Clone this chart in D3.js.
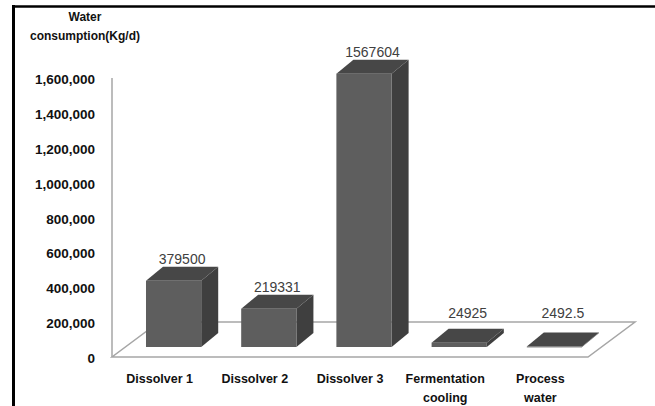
<!DOCTYPE html>
<html>
<head>
<meta charset="utf-8">
<script src="https://cdn.jsdelivr.net/npm/d3@7"></script>
<style>
  body { margin: 0; background: #fff; }
  svg text { font-family: "Liberation Sans", Arial, sans-serif; }
  .tick-label { font-size: 13.5px; font-weight: bold; fill: #111; }
  .cat-label { font-size: 12.5px; font-weight: bold; fill: #111; }
  .val-label { font-size: 14px; fill: #404040; }
  .title { font-size: 12px; font-weight: bold; fill: #111; }
</style>
</head>
<body>
<div id="chart"></div>
<script>
// chart data
var categories = ["Dissolver 1", "Dissolver 2", "Dissolver 3", "Fermentation cooling", "Process water"]
var catLines = [["Dissolver 1"], ["Dissolver 2"], ["Dissolver 3"], ["Fermentation", "cooling"], ["Process", "water"]]
var values = [379500, 219331, 1567604, 24925, 2492.5]
var valueLabels = ["379500", "219331", "1567604", "24925", "2492.5"]
var tickValues = [0, 200000, 400000, 600000, 800000, 1000000, 1200000, 1400000, 1600000]

var config = {
  width: 655,
  height: 406,
  floor: { left: 112, right: 588, front: 357, dx: 47, dy: 35 },
  depth: { dx: 17, dy: 14 },
  barShift: 14,     // bars sit halfway back on the floor
  barDrop: 11,      // front base of bars above floor front edge
  colors: { front: "#5e5e5e", side: "#3f3f3f", top: "#474747", grid: "#a6a6a6" }
}

var svg = d3.select("#chart").append("svg")
    .attr("width", config.width)
    .attr("height", config.height)

// outer frame (top and left only)
svg.append("line").attr("x1", 12).attr("x2", 655).attr("y1", 6.5).attr("y2", 6.5)
    .attr("stroke", "#000").attr("stroke-width", 2.5)
svg.append("line").attr("x1", 13.5).attr("x2", 13.5).attr("y1", 5).attr("y2", 406)
    .attr("stroke", "#000").attr("stroke-width", 3)

// scales
var y = d3.scaleLinear().domain([0, 1600000]).range([358, 79])
var x = d3.scaleBand().domain(categories)
    .range([config.floor.left, config.floor.right])
    .paddingInner(0.42).paddingOuter(0.21)

var f = config.floor
// floor
svg.append("path")
    .attr("d", "M" + f.left + "," + f.front +
      "L" + f.right + "," + f.front +
      "L" + (f.right + f.dx) + "," + (f.front - f.dy) +
      "L" + (f.left + f.dx) + "," + (f.front - f.dy) + "Z")
    .attr("fill", "none")
    .attr("stroke", config.colors.grid)
    .attr("stroke-width", 1.5)

// vertical axis line
svg.append("line")
    .attr("x1", f.left).attr("x2", f.left)
    .attr("y1", y(1600000) - 1).attr("y2", f.front)
    .attr("stroke", config.colors.grid)
    .attr("stroke-width", 1.5)

// tick labels
svg.selectAll(".tick-label")
    .data(tickValues)
  .enter().append("text")
    .attr("class", "tick-label")
    .attr("x", 95)
    .attr("y", function(d){ return y(d) + 5 })
    .attr("text-anchor", "end")
    .text(function(d){ return d3.format(",")(d) })

// axis title
svg.append("text").attr("class", "title")
    .attr("x", 85).attr("y", 21).attr("text-anchor", "middle").text("Water")
svg.append("text").attr("class", "title")
    .attr("x", 85).attr("y", 40).attr("text-anchor", "middle").text("consumption(Kg/d)")

// bars
var dd = config.depth
var bars = svg.selectAll(".bar")
    .data(values)
  .enter().append("g")
    .attr("class", "bar")

function barGeom(v, i){
  var x0 = x(categories[i]) + config.barShift
  var x1 = x0 + x.bandwidth()
  var yb = y(0) - config.barDrop
  var yt = y(v) - config.barDrop
  return { x0: x0, x1: x1, yb: yb, yt: yt }
}

bars.append("path")
    .attr("fill", config.colors.side)
    .attr("d", function(v, i){
      var g = barGeom(v, i)
      return "M" + g.x1 + "," + g.yb + "L" + g.x1 + "," + g.yt +
        "L" + (g.x1 + dd.dx) + "," + (g.yt - dd.dy) +
        "L" + (g.x1 + dd.dx) + "," + (g.yb - dd.dy) + "Z"
    })

bars.append("path")
    .attr("fill", config.colors.top)
    .attr("d", function(v, i){
      var g = barGeom(v, i)
      return "M" + g.x0 + "," + g.yt + "L" + g.x1 + "," + g.yt +
        "L" + (g.x1 + dd.dx) + "," + (g.yt - dd.dy) +
        "L" + (g.x0 + dd.dx) + "," + (g.yt - dd.dy) + "Z"
    })

bars.append("rect")
    .attr("fill", config.colors.front)
    .attr("x", function(v, i){ return barGeom(v, i).x0 })
    .attr("y", function(v, i){ return barGeom(v, i).yt })
    .attr("width", x.bandwidth())
    .attr("height", function(v, i){ var g = barGeom(v, i); return Math.max(0.8, g.yb - g.yt) })

// value labels
bars.append("text")
    .attr("class", "val-label")
    .attr("text-anchor", "middle")
    .attr("x", function(v, i){ var g = barGeom(v, i); return (g.x0 + g.x1 + dd.dx) / 2 })
    .attr("y", function(v, i){
      var g = barGeom(v, i)
      var c = Math.min(g.yt - dd.dy - 8, f.front - f.dy - 9)
      return c + 5
    })
    .text(function(v, i){ return valueLabels[i] })

// category labels
var cats = svg.selectAll(".cat-label")
    .data(catLines)
  .enter().append("text")
    .attr("class", "cat-label")
    .attr("text-anchor", "middle")
    .attr("transform", function(d, i){
      return "translate(" + (x(categories[i]) + x.bandwidth() / 2) + ",0)"
    })

cats.selectAll("tspan")
    .data(function(d){ return d })
  .enter().append("tspan")
    .attr("x", 0)
    .attr("y", function(d, j){ return 383 + j * 19 })
    .text(function(d){ return d })
</script>
</body>
</html>
